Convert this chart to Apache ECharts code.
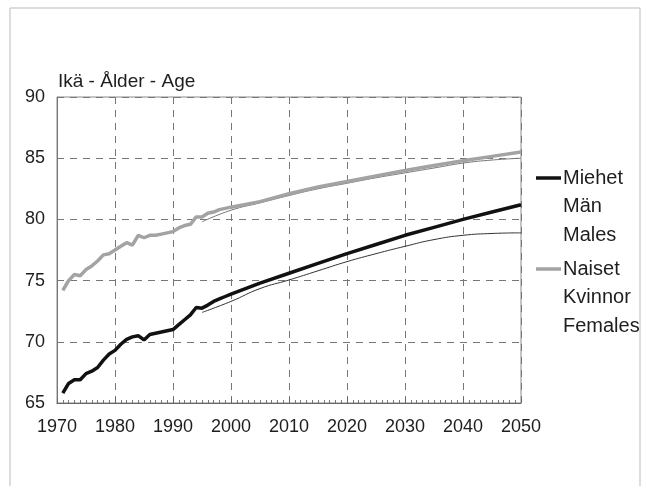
<!DOCTYPE html>
<html>
<head>
<meta charset="utf-8">
<script src="https://cdn.jsdelivr.net/npm/echarts@6/dist/echarts.min.js"></script>
<style>
html,body{margin:0;padding:0;background:#fff;}
#c{width:646px;height:491px;}
</style>
</head>
<body>
<div id="c"></div>
<script>
// ---- data ----
var title = 'Ikä - Ålder - Age';
var maleLabel = ['Miehet', 'Män', 'Males'];
var femaleLabel = ['Naiset', 'Kvinnor', 'Females'];

var maleYears = [1971,1972,1973,1974,1975,1976,1977,1978,1979,1980,1981,1982,1983,1984,1985,1986,1987,1988,1989,1990,1991,1992,1993,1994,1995,1996,1997,1998,1999,2000,2005,2010,2015,2020,2025,2030,2035,2040,2045,2050];
var maleValues = [65.8,66.6,66.9,66.9,67.4,67.6,67.9,68.5,69.0,69.3,69.8,70.2,70.4,70.5,70.15,70.6,70.7,70.8,70.9,71.0,71.4,71.8,72.2,72.8,72.75,73.0,73.3,73.5,73.7,73.9,74.8,75.6,76.4,77.2,77.95,78.7,79.35,80.0,80.6,81.2];

var femaleYears = [1971,1972,1973,1974,1975,1976,1977,1978,1979,1980,1981,1982,1983,1984,1985,1986,1987,1988,1989,1990,1991,1992,1993,1994,1995,1996,1997,1998,1999,2000,2005,2010,2015,2020,2025,2030,2035,2040,2045,2050];
var femaleValues = [74.2,75.0,75.5,75.4,75.9,76.2,76.6,77.1,77.2,77.5,77.8,78.1,77.9,78.7,78.5,78.7,78.7,78.8,78.9,79.0,79.3,79.5,79.6,80.2,80.2,80.5,80.6,80.8,80.9,81.0,81.45,82.1,82.65,83.1,83.55,84.0,84.4,84.8,85.15,85.5];

var maleAltYears = [1995,2000,2005,2010,2015,2020,2025,2030,2035,2040,2045,2050];
var maleAltValues = [72.4,73.3,74.35,75.05,75.8,76.55,77.2,77.8,78.35,78.7,78.85,78.9];

var femaleAltYears = [1995,2000,2005,2010,2015,2020,2025,2030,2035,2040,2045,2050];
var femaleAltValues = [79.8,80.75,81.35,81.95,82.5,82.95,83.4,83.8,84.2,84.6,84.85,85.0];

var xTicks = [1970,1980,1990,2000,2010,2020,2030,2040,2050];
var yTicks = [65,70,75,80,85,90];

function pairs(xs, ys){ return xs.map(function(x,i){ return [x, ys[i]]; }); }

var FONT = '"Liberation Sans", Arial, sans-serif';
var chart = echarts.init(document.getElementById('c'), null, {renderer:'canvas'});

var legendFont = 20;
function legendBlock(lines, y0, lineStyle){
  var els = [{type:'line', shape:{x1:536,y1:y0,x2:561,y2:y0}, style:lineStyle}];
  lines.forEach(function(t,i){
    els.push({type:'text', x:563, y:y0 + i*28.5, style:{text:t, font:legendFont+'px '+FONT, fill:'#1e1e1e', textVerticalAlign:'middle', verticalAlign:'middle'}});
  });
  return els;
}

var option = {
  animation:false,
  backgroundColor:'#fff',
  grid:{left:57, right:125, top:97, bottom:88, show:true, borderColor:'#8a8a8a', borderWidth:1, backgroundColor:'transparent'},
  xAxis:{
    type:'value', min:xTicks[0], max:xTicks[xTicks.length-1], interval:10,
    axisLine:{show:true, onZero:false, lineStyle:{color:'#666', width:1}},
    axisTick:{show:true, inside:true, length:5, lineStyle:{color:'#666'}},
    minorTick:{show:true, splitNumber:10, length:3, lineStyle:{color:'#777'}},
    axisLabel:{color:'#1e1e1e', fontSize:18, fontFamily:FONT, margin:15, formatter:function(v){return String(v);}},
    splitLine:{show:true, lineStyle:{color:'#777', type:[7,6], width:1}}
  },
  yAxis:{
    type:'value', min:yTicks[0], max:yTicks[yTicks.length-1], interval:5,
    axisLine:{show:true, lineStyle:{color:'#777'}},
    axisTick:{show:false},
    axisLabel:{color:'#1e1e1e', fontSize:18, fontFamily:FONT, margin:12},
    splitLine:{show:true, lineStyle:{color:'#777', type:[7,6], width:1}}
  },
  series:[
    {type:'line', name:'femaleAlt', data:pairs(femaleAltYears, femaleAltValues), showSymbol:false, smooth:true, lineStyle:{color:'#777', width:1}, z:2},
    {type:'line', name:'maleAlt', data:pairs(maleAltYears, maleAltValues), showSymbol:false, smooth:true, lineStyle:{color:'#333', width:1}, z:2},
    {type:'line', name:'Naiset', data:pairs(femaleYears, femaleValues), showSymbol:false, lineStyle:{color:'#a3a3a3', width:3.5}, z:3},
    {type:'line', name:'Miehet', data:pairs(maleYears, maleValues), showSymbol:false, lineStyle:{color:'#111', width:3.5}, z:4}
  ],
  graphic:[
    {type:'polyline', shape:{points:[[10,486],[10,8],[640,8],[640,486]]}, style:{stroke:'#bbb', lineWidth:1, fill:null}},
    {type:'text', x:58, y:82, style:{text:title, font:'19px '+FONT, fill:'#1e1e1e', verticalAlign:'middle', textVerticalAlign:'middle'}}
  ].concat(
    legendBlock(maleLabel, 178, {stroke:'#111', lineWidth:3.5}),
    legendBlock(femaleLabel, 269, {stroke:'#a3a3a3', lineWidth:3.5})
  )
};
chart.setOption(option);
</script>
</body>
</html>
